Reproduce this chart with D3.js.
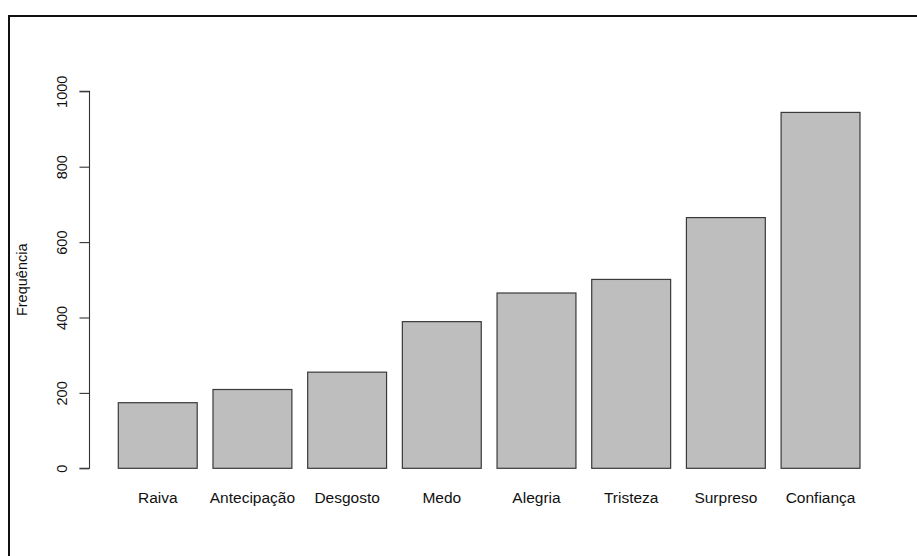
<!DOCTYPE html>
<html>
<head>
<meta charset="utf-8">
<script src="https://cdn.jsdelivr.net/npm/d3@7"></script>
<style>
  html, body { margin: 0; padding: 0; background: #fff; }
  svg { display: block; }
  text { font-family: "Liberation Sans", Arial, sans-serif; fill: #111; }
</style>
</head>
<body>
<svg id="chart" width="917" height="556"></svg>
<script>
const categories = ["Raiva", "Antecipação", "Desgosto", "Medo", "Alegria", "Tristeza", "Surpreso", "Confiança"];
const values = [174, 209, 255, 389, 465, 501, 665, 944];
const yTicks = [0, 200, 400, 600, 800, 1000];
const yLabel = "Frequência";

const svg = d3.select("#chart");
const W = 917, H = 556;

// frame (top and left only visible)
svg.append("line").attr("x1", 9).attr("x2", W).attr("y1", 16).attr("y2", 16)
  .attr("stroke", "#111").attr("stroke-width", 2);
svg.append("line").attr("x1", 9).attr("x2", 9).attr("y1", 15).attr("y2", H)
  .attr("stroke", "#111").attr("stroke-width", 2);

const x = d3.scaleBand().domain(categories).range([118.3, 860]).paddingInner(0.1667).paddingOuter(0);
const y = d3.scaleLinear().domain([0, 1000]).range([468.3, 91.3]);

// bars
svg.append("g").selectAll("rect").data(categories).join("rect")
  .attr("x", d => x(d))
  .attr("width", x.bandwidth())
  .attr("y", (d, i) => y(values[i]))
  .attr("height", (d, i) => y(0) - y(values[i]))
  .attr("fill", "#bebebe")
  .attr("stroke", "#3a3a3a")
  .attr("stroke-width", 1.2);

// y axis
const yAxis = d3.axisLeft(y).tickValues(yTicks).tickSize(10).tickPadding(0).tickFormat(d3.format("d"));
const gy = svg.append("g").attr("transform", "translate(89.5,0)").call(yAxis);
gy.select(".domain").attr("stroke", "#333").attr("stroke-width", 1.1)
  .attr("d", `M-10,${y(1000)}H0V${y(0)}H-10`);
gy.selectAll(".tick line").attr("stroke", "#333").attr("stroke-width", 1.1);
gy.selectAll(".tick text")
  .attr("x", 0).attr("y", 0).attr("dy", 0)
  .attr("transform", "translate(-23,0) rotate(-90)")
  .attr("text-anchor", "middle")
  .style("font-size", "14.5px")
  .style("font-family", "'Liberation Sans', Arial, sans-serif")
  .attr("fill", "#111");

// x labels
const xAxis = d3.axisBottom(x).tickSize(0).tickPadding(0);
const gx = svg.append("g").attr("transform", "translate(0,503)").call(xAxis);
gx.select(".domain").remove();
gx.selectAll(".tick text")
  .attr("y", 0).attr("dy", 0)
  .style("font-size", "15.5px")
  .style("font-family", "'Liberation Sans', Arial, sans-serif")
  .attr("fill", "#111");

// y label
svg.append("text")
  .attr("transform", `translate(26.5,${(y(0) + y(1000)) / 2}) rotate(-90)`)
  .attr("text-anchor", "middle")
  .style("font-size", "14.5px")
  .text(yLabel);
</script>
</body>
</html>
